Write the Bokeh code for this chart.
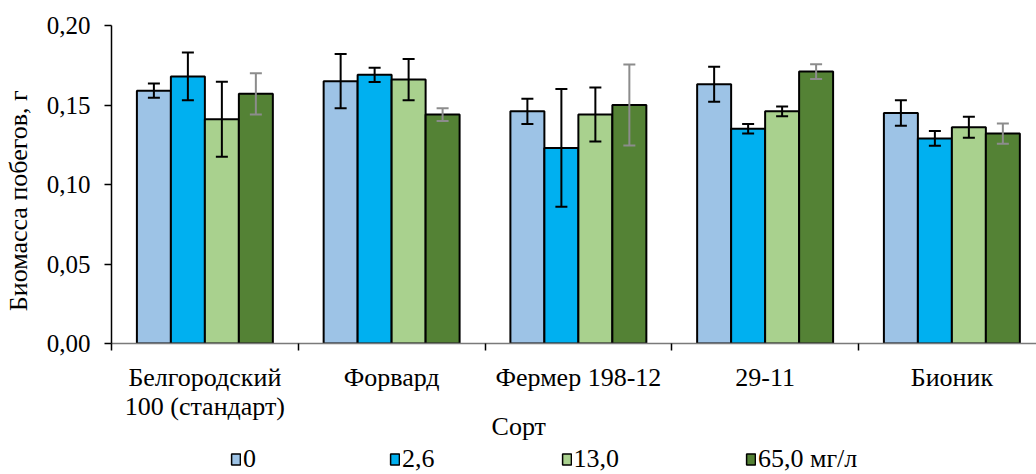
from bokeh.plotting import figure
from bokeh.layouts import column
from bokeh.models import (Range1d, FixedTicker, Legend, LegendItem, Whisker,
                          ColumnDataSource, TeeHead)
from bokeh.embed import file_html
from bokeh.resources import INLINE

# ---- data ----
cultivars = ["Белгородский\n100 (стандарт)", "Форвард", "Фермер 198-12", "29-11", "Бионик"]
series_names = ["0", "2,6", "13,0", "65,0 мг/л"]
val_0 = [0.159, 0.165, 0.146, 0.163, 0.145]
err_0 = [0.0045, 0.017, 0.008, 0.011, 0.008]
val_2_6 = [0.168, 0.169, 0.123, 0.135, 0.129]
err_2_6 = [0.015, 0.0045, 0.037, 0.003, 0.0047]
val_13 = [0.141, 0.166, 0.144, 0.146, 0.136]
err_13 = [0.0236, 0.013, 0.017, 0.003, 0.0066]
val_65 = [0.157, 0.144, 0.150, 0.171, 0.132]
err_65 = [0.013, 0.004, 0.0255, 0.0046, 0.0064]
y_ticks = [0.0, 0.05, 0.10, 0.15, 0.20]
y_tick_labels = ["0,00", "0,05", "0,10", "0,15", "0,20"]
y_title = "Биомасса побегов, г"
x_title = "Сорт"

# ---- styles ----
colors = ["#9DC3E6", "#00B0F0", "#A9D18E", "#548235"]
err_colors = ["black", "black", "black", "#8C8C8C"]
FONT = "'Liberation Serif', 'Times New Roman', serif"
NBSP = "\u00a0"
values = [val_0, val_2_6, val_13, val_65]
errors = [err_0, err_2_6, err_13, err_65]

W = 1036
H_MAIN, H_LEG = 444, 30
LEFT, TOP, BOTTOM = 111, 25, 100
cat_px = 186.75
x_end = (W - LEFT) / cat_px

p = figure(width=W, height=H_MAIN, output_backend="svg", toolbar_location=None,
           x_range=Range1d(0, x_end), y_range=Range1d(0, 0.2),
           min_border_left=LEFT, min_border_right=0, min_border_top=TOP,
           min_border_bottom=BOTTOM)
p.outline_line_color = None
p.grid.visible = False
p.background_fill_color = "white"
p.border_fill_color = "white"

bar_w = 0.182
offsets = [-1.5 * bar_w, -0.5 * bar_w, 0.5 * bar_w, 1.5 * bar_w]
for k in range(4):
    xs = [i + 0.5 + offsets[k] for i in range(len(cultivars))]
    src = ColumnDataSource(dict(x=xs, top=values[k],
                                upper=[v + e for v, e in zip(values[k], errors[k])],
                                lower=[v - e for v, e in zip(values[k], errors[k])]))
    p.vbar(x="x", top="top", width=bar_w, bottom=0, source=src,
           fill_color=colors[k], line_color="black", line_width=2)
    wk = Whisker(base="x", upper="upper", lower="lower", source=src,
                 line_color=err_colors[k], line_width=2,
                 upper_head=TeeHead(size=12, line_color=err_colors[k], line_width=2),
                 lower_head=TeeHead(size=12, line_color=err_colors[k], line_width=2))
    wk.level = "annotation"
    p.add_layout(wk)

# x axis
xa = p.xaxis[0]
xa.ticker = FixedTicker(ticks=[i + 0.5 for i in range(len(cultivars))],
                        minor_ticks=list(range(len(cultivars) + 1)))
xa.major_label_overrides = {i + 0.5: c for i, c in enumerate(cultivars)}
xa.major_tick_out = 0
xa.major_tick_in = 0
xa.minor_tick_out = 7
xa.minor_tick_in = 0
xa.minor_tick_line_color = "black"
xa.minor_tick_line_width = 1.5
xa.axis_line_color = "#7A7A7A"
xa.axis_line_width = 1.5
xa.major_label_text_font = FONT
xa.major_label_text_font_size = "26px"
xa.major_label_text_color = "black"
xa.major_label_text_line_height = 1.02
xa.major_label_standoff = 12
# title sits left of centre in the original: pad with no-break spaces
xa.axis_label = x_title + NBSP * 17
xa.axis_label_text_font = FONT
xa.axis_label_text_font_size = "26px"
xa.axis_label_text_font_style = "normal"
xa.axis_label_text_color = "black"
xa.axis_label_standoff = -12

# y axis
ya = p.yaxis[0]
ya.ticker = FixedTicker(ticks=y_ticks, minor_ticks=[])
ya.major_label_overrides = {t: l for t, l in zip(y_ticks, y_tick_labels)}
ya.major_tick_out = 7
ya.major_tick_in = 0
ya.major_tick_line_color = "black"
ya.major_tick_line_width = 1.5
ya.axis_line_color = "black"
ya.axis_line_width = 1.5
ya.major_label_text_font = FONT
ya.major_label_text_font_size = "25px"
ya.major_label_text_color = "black"
ya.major_label_standoff = 14
ya.axis_label = y_title + NBSP * 5
ya.axis_label_text_font = FONT
ya.axis_label_text_font_size = "26px"
ya.axis_label_text_font_style = "normal"
ya.axis_label_text_color = "black"
ya.axis_label_standoff = 11

# ---- legend strip below the chart (its frame is aligned with the chart's) ----
q = figure(width=W, height=H_LEG, output_backend="svg", toolbar_location=None,
           x_range=Range1d(0, 1), y_range=Range1d(0, 1),
           x_axis_type=None, y_axis_type=None, min_border=0)
q.outline_line_color = None
q.grid.visible = False
q.background_fill_color = "white"
q.border_fill_color = "white"
# swatch renderers with a NaN point: nothing is drawn, they only feed the legend
nan = float("nan")
leg_renderers = [q.vbar(x=[nan], top=[nan], bottom=[nan], width=0.1, fill_color=c,
                        line_color="black", line_width=1.5) for c in colors]
legend = Legend(items=[LegendItem(label=n, renderers=[r]) for n, r in zip(series_names, leg_renderers)],
                orientation="horizontal", location=(119, 0),
                glyph_width=11, glyph_height=14, label_standoff=2, spacing=126,
                padding=0, margin=0, border_line_color=None, background_fill_alpha=0,
                label_text_font=FONT, label_text_font_size="26px", label_text_color="black")
q.add_layout(legend, "center")

layout = column(p, q, spacing=0)
open("out.html", "w").write(file_html(layout, INLINE))
